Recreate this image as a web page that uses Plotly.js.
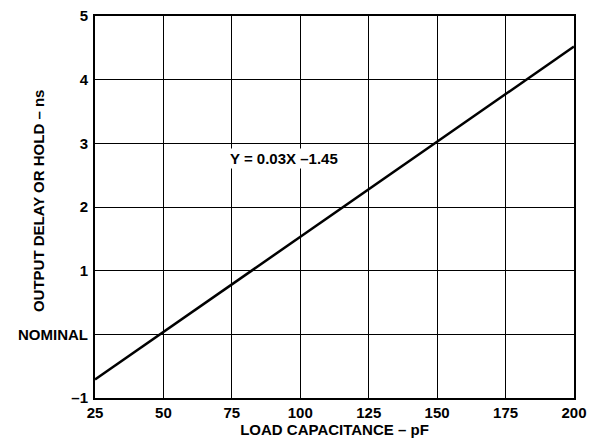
<!DOCTYPE html>
<html>
<head>
<meta charset="utf-8">
<script src="https://cdn.plot.ly/plotly-3.0.1.min.js"></script>
<style>html,body{margin:0;padding:0;background:#fff;}</style>
</head>
<body>
<div id="chart" style="width:602px;height:442px;"></div>
<script>
const loadCap = [25, 200];
const delay = [-0.71, 4.52];
const xTicks = [25, 50, 75, 100, 125, 150, 175, 200];
const yTicks = [-1, 0, 1, 2, 3, 4, 5];
const yTickText = ['–1', 'NOMINAL', '1', '2', '3', '4', '5'];
const eqText = 'Y = 0.03X –1.45';
const eqPos = [94, 2.76];
const xTitle = 'LOAD CAPACITANCE – pF';
const yTitle = 'OUTPUT DELAY OR HOLD – ns';

const fam = 'Liberation Sans, Arial, sans-serif';
const fs = 15;
const b = s => '<b>' + s + '</b>';

Plotly.newPlot('chart', [{
  x: loadCap, y: delay, type: 'scatter', mode: 'lines',
  line: {color: '#000', width: 2.5}, hoverinfo: 'skip'
}], {
  width: 602, height: 442,
  margin: {l: 95, r: 28, t: 16, b: 44},
  paper_bgcolor: '#fff', plot_bgcolor: '#fff',
  showlegend: false,
  font: {family: fam, size: fs, color: '#000'},
  xaxis: {
    range: [25, 200], tickvals: xTicks, ticktext: xTicks.map(v => b(String(v))),
    showgrid: true, gridcolor: '#000', gridwidth: 1,
    showline: true, linecolor: '#000', linewidth: 2, mirror: true,
    zeroline: false, ticks: '', ticklabelstandoff: 0,
    tickfont: {family: fam, size: fs, color: '#000'},
    title: {text: b(xTitle), font: {family: fam, size: fs, color: '#000'}, standoff: 0}
  },
  yaxis: {
    range: [-1, 5], tickvals: yTicks, ticktext: yTickText.map(b),
    showgrid: true, gridcolor: '#000', gridwidth: 1,
    showline: true, linecolor: '#000', linewidth: 2, mirror: true,
    zeroline: false, ticks: '', ticklabelstandoff: 2,
    tickfont: {family: fam, size: fs, color: '#000'}
  },
  annotations: [{
    x: eqPos[0], y: eqPos[1], xref: 'x', yref: 'y',
    text: b(eqText), showarrow: false,
    bgcolor: '#fff', font: {family: fam, size: fs, color: '#000'}
  }, {
    x: -0.119, y: 0.518, xref: 'paper', yref: 'paper',
    xanchor: 'center', yanchor: 'middle', textangle: -90,
    text: b(yTitle), showarrow: false,
    font: {family: fam, size: fs, color: '#000'}
  }]
}, {displayModeBar: false, staticPlot: true});
</script>
</body>
</html>
